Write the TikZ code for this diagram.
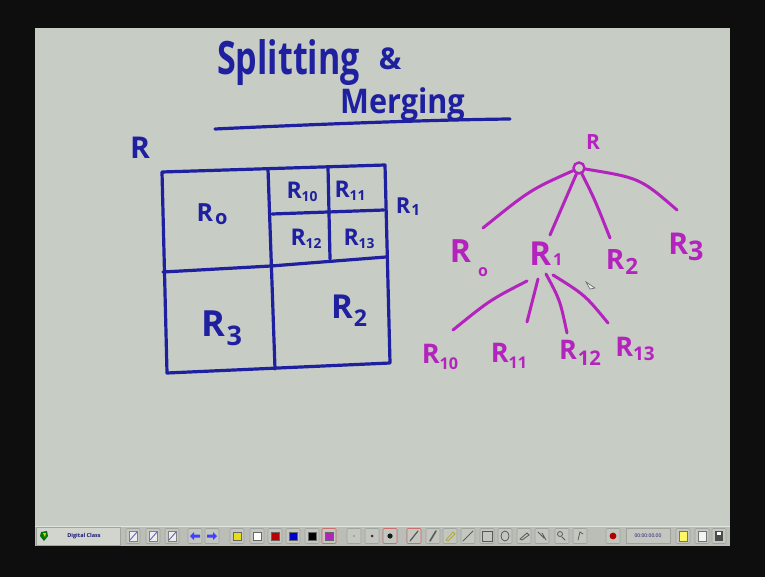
\documentclass[tikz,border=0pt]{standalone}
\usepackage{fontspec}
\usepackage{graphicx}
\setmainfont{Open Sans}
\usetikzlibrary{arrows.meta}
\definecolor{screen}{RGB}{14,14,14}
\definecolor{board}{RGB}{199,204,196}
\definecolor{ink}{RGB}{30,32,160}
\definecolor{pk}{RGB}{180,35,190}
\definecolor{bar}{RGB}{186,190,183}
\definecolor{panel}{RGB}{210,213,206}
\definecolor{btn}{RGB}{196,199,192}
\definecolor{btnedge}{RGB}{160,164,158}
\definecolor{selred}{RGB}{205,110,110}
\newcommand{\fsz}[1]{\fontsize{#1}{#1}\selectfont}
\newcommand{\fsb}[1]{\fontsize{#1}{#1}\selectfont\bfseries}
% R with a subscript: {sub}{kern}{drop}{scale}
\newcommand{\Rl}[4]{R\kern#2\raisebox{#3}{\scalebox{#4}{#1}}}
\begin{document}
\begin{tikzpicture}[x=1pt,y=-1pt,
  bpen/.style={draw=ink,line width=3.2pt,line cap=round,line join=round},
  ppen/.style={draw=pk,line width=3pt,line cap=round,line join=round},
  btext/.style={text=ink,inner sep=0pt},
  ptext/.style={text=pk,inner sep=0pt},
  button/.style={draw=btnedge,fill=btn,line width=0.6pt,minimum width=14pt,minimum height=15pt,inner sep=0pt,rounded corners=1pt},
  swatch/.style={draw=black!60,line width=0.5pt,minimum size=8pt,inner sep=0pt},
  glyph/.style={draw=black!65,line width=0.8pt,line cap=round}
]
\useasboundingbox (0,0) rectangle (765,577);
\fill[screen] (0,0) rectangle (765,577);
\fill[board] (35,28) rectangle (730,546);

% ---------- title ----------
\node[btext,anchor=base west,font=\fsb{46}] (split) at (217,75) {\scalebox{0.74}[1]{Splitting}};
\node[btext,font=\fsb{30}] (amp) at (390,59) {\&};
\node[btext,anchor=base west,font=\fsb{34}] (merge) at (340,114) {\scalebox{0.9}[1]{Merging}};
\coordinate (ulA) at (215,129);
\coordinate (ulB) at (510,119);
\draw[bpen] (ulA) .. controls (300,125) and (420,120) .. (ulB);

% ---------- region picture ----------
\node[btext,font=\fsb{30}] (bigR) at (140,148) {R};
\coordinate (tl) at (162,172);
\coordinate (tr) at (385,165);
\coordinate (br) at (390,363);
\coordinate (bl) at (167,373);
\draw[bpen] (tl) -- (tr) -- (br) -- (bl) -- cycle;
\coordinate (mt) at (268,169);
\coordinate (mb) at (275,369);
\draw[bpen] (mt) -- (mb);
\coordinate (ml) at (163,272);
\coordinate (mm) at (271,266);
\coordinate (mr) at (386,257);
\draw[bpen] (ml) -- (mm) -- (mr);
\coordinate (it) at (328,167);
\coordinate (ib) at (330,259);
\draw[bpen] (it) -- (ib);
\coordinate (il) at (272,214);
\coordinate (ir) at (384,210);
\draw[bpen] (il) -- (ir);

\node[btext,font=\fsb{25}] (bR0) at (212,214) {\Rl{o}{2pt}{-0.1em}{0.8}};
\node[btext,font=\fsb{23}] (bR10) at (302,192) {\Rl{10}{0pt}{-0.15em}{0.6}};
\node[btext,font=\fsb{23}] (bR11) at (350,191) {\Rl{11}{0pt}{-0.15em}{0.6}};
\node[btext,font=\fsb{23}] (bR12) at (306,239) {\Rl{12}{0pt}{-0.15em}{0.6}};
\node[btext,font=\fsb{23}] (bR13) at (359,239) {\Rl{13}{0pt}{-0.15em}{0.6}};
\node[btext,font=\fsb{22}] (bR1) at (408,207) {\Rl{1}{1pt}{-0.1em}{0.7}};
\node[btext,font=\fsb{36}] (bR3) at (222,328) {\Rl{3}{1pt}{-0.25em}{0.75}};
\node[btext,font=\fsb{33}] (bR2) at (349,311) {\Rl{2}{1pt}{-0.25em}{0.7}};

% ---------- tree ----------
\node[ptext,font=\fsb{21}] (tR) at (593,142) {R};
\node[circle,draw=pk,line width=2.4pt,fill=board,minimum size=11pt,inner sep=0pt] (root) at (579,168) {};
\coordinate (e0) at (483,228);
\coordinate (e1) at (550,235);
\coordinate (e2) at (610,238);
\coordinate (e3) at (677,210);
\draw[ppen] (root) .. controls (530,190) .. (e0);
\draw[ppen] (root) -- (e1);
\draw[ppen] (root) .. controls (595,200) .. (e2);
\draw[ppen] (root) .. controls (640,178) .. (e3);

\node[ptext,font=\fsb{32}] (tR0) at (469,258) {\Rl{o}{7pt}{-0.45em}{0.5}};
\node[ptext,font=\fsb{33}] (tR1) at (546,254) {\Rl{1}{2pt}{0em}{0.5}};
\node[ptext,font=\fsb{28}] (tR2) at (622,262) {\Rl{2}{1pt}{-0.15em}{0.8}};
\node[ptext,font=\fsb{30}] (tR3) at (686,247) {\Rl{3}{0pt}{-0.2em}{0.9}};

\coordinate (s1a) at (527,281);
\coordinate (s1b) at (538,279);
\coordinate (s1c) at (546,274);
\coordinate (s1d) at (553,275);
\coordinate (f1a) at (453,330);
\coordinate (f1b) at (527,322);
\coordinate (f1c) at (567,333);
\coordinate (f1d) at (608,323);
\draw[ppen] (s1a) .. controls (490,300) .. (f1a);
\draw[ppen] (s1b) -- (f1b);
\draw[ppen] (s1c) .. controls (560,300) .. (f1c);
\draw[ppen] (s1d) .. controls (585,295) .. (f1d);

\node[ptext,font=\fsb{27}] (tR10) at (440,357) {\Rl{10}{0pt}{-0.2em}{0.6}};
\node[ptext,font=\fsb{27}] (tR11) at (509,356) {\Rl{11}{0pt}{-0.2em}{0.6}};
\node[ptext,font=\fsb{27}] (tR12) at (580,353) {\Rl{12}{1pt}{-0.2em}{0.75}};
\node[ptext,font=\fsb{27}] (tR13) at (635,349) {\Rl{13}{0pt}{-0.15em}{0.7}};

% mouse pointer
\draw[black!60,line width=0.6pt,fill=white!60!board] (586,282) -- (595,288) -- (590,289) -- cycle;

% ---------- toolbar ----------
\fill[bar] (35,526) rectangle (730,546);
\draw[white!60!bar,line width=0.8pt] (35,526.5) -- (730,526.5);
\node[draw=btnedge,fill=panel,minimum width=84pt,minimum height=18pt,inner sep=0pt,anchor=west] (panel) at (36,536) {};
\node[font=\fsb{5.5},text=ink!70!black,inner sep=0pt] (dc) at (84,536) {Digital Class};
\fill[green!45!black] (41,532) -- (47,531) -- (48,536) -- (44,541) -- (40,536) -- cycle;
\fill[yellow!70!olive] (43,533) -- (46,533) -- (45,537) -- cycle;

\foreach \x in {133,153,172,195,212,237,257,275,293,312,329,354,372,390,414,433,450,468,487,505,524,542,562,580,613,683,702,719}
  \node[button] (b\x) at (\x,536) {};
\foreach \x in {329,390,414}
  \node[button,draw=selred] (s\x) at (\x,536) {};

% document icons
\foreach \x in {133,153,172} {
  \draw[black!50,line width=0.5pt,fill=white!70!btn] (\x-4,531) rectangle (\x+4,541);
  \draw[ink!70,line width=0.9pt] (\x-3,540) -- (\x+4,532);
}
% arrows
\fill[blue!75] (190,536) -- (194,532) -- (194,534.5) -- (200,534.5) -- (200,537.5) -- (194,537.5) -- (194,540) -- cycle;
\fill[blue!75] (217,536) -- (213,532) -- (213,534.5) -- (207,534.5) -- (207,537.5) -- (213,537.5) -- (213,540) -- cycle;
% colour swatches
\node[swatch,fill=yellow!90!black] (cy) at (237,536) {};
\node[swatch,fill=white] (cw) at (257,536) {};
\node[swatch,fill=red!75!black] (cr) at (275,536) {};
\node[swatch,fill=blue!80!black] (cb) at (293,536) {};
\node[swatch,fill=black] (ck) at (312,536) {};
\node[swatch,fill=pk] (cm) at (329,536) {};
% pen sizes
\fill[black!80] (354,536) circle (0.7pt);
\fill[black!80] (372,536) circle (1.5pt);
\fill[black!90] (390,536) circle (2.6pt);
% tools
\draw[glyph,line width=1.2pt] (410,541) -- (418,531);
\draw[glyph,line width=1.6pt] (430,541) -- (436,531);
\draw[glyph,draw=olive!70] (446,540) -- (453,532) -- (455,534) -- (448,541) -- cycle;
\draw[glyph] (463,541) -- (473,531);
\draw[glyph] (482,531) rectangle (492,541);
\draw[glyph] (505,536) ellipse (4pt and 5pt);
\draw[glyph] (520,539) -- (527,533) -- (529,535) -- (522,540) -- cycle;
\draw[glyph] (538,532) -- (544,538) (542,533) -- (546,540);
\draw[glyph] (560,534) circle (2.5pt) (562,537) -- (565,540);
\draw[glyph] (578,540) -- (580,532) -- (583,534);
% record
\fill[red!70!black] (613,536) circle (3.4pt);
% time display
\node[draw=btnedge,fill=btn,line width=0.6pt,minimum width=44pt,minimum height=15pt,inner sep=0pt,font=\fsz{5},text=ink!70!black] (timer) at (648,536) {00:00:00.00};
% right icons
\draw[black!55,line width=0.5pt,fill=yellow!60!white] (679,531) rectangle (687,541);
\draw[black!55,line width=0.5pt,fill=white!80!btn] (698,531) rectangle (706,541);
\fill[black!70] (715,531) rectangle (723,541);
\fill[white!80] (717,532) rectangle (721,535);
\end{tikzpicture}
\end{document}
